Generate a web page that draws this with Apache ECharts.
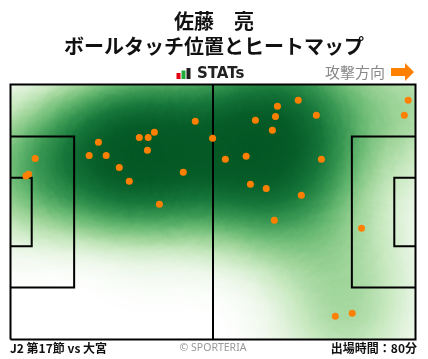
<!DOCTYPE html>
<html><head><meta charset="utf-8">
<script src="https://cdn.jsdelivr.net/npm/echarts@6/dist/echarts.min.js"></script>
<style>html,body{margin:0;padding:0;background:#fff}#c{width:428px;height:359px}</style>
</head><body><div id="c"></div>
<script>
// Ball touch positions in pitch metres (x: 0-105 toward attack direction, y: 0-68 from bottom touchline)
const touchX = [6.4, 4.0, 4.7, 22.8, 20.4, 24.8, 28.2, 30.8, 33.4, 35.7, 37.3, 35.5, 47.9, 44.8, 38.6, 52.4,
                69.2, 74.6, 68.7, 63.5, 79.3, 67.9, 103.1, 102.1, 55.7, 61.1, 80.6, 62.2, 66.3, 75.4, 68.4, 91.0, 84.2, 88.6];
const touchY = [48.3, 43.6, 44.1, 52.6, 49.1, 49.1, 45.9, 42.2, 53.9, 53.9, 55.3, 50.5, 58.2, 44.6, 36.1, 53.7,
                62.2, 63.8, 59.5, 58.5, 59.8, 55.8, 63.8, 59.8, 48.1, 48.9, 48.1, 41.4, 40.3, 38.5, 31.8, 29.7, 6.2, 7.0];

// Pitch markings (metres)
const pitchOutline = [[0, 0], [105, 0], [105, 68], [0, 68], [0, 0]];
const halfwayLine = [[52.5, 0], [52.5, 68]];
const leftPenaltyBox = [[0, 54.16], [16.5, 54.16], [16.5, 13.84], [0, 13.84]];
const leftGoalArea = [[0, 43.16], [5.5, 43.16], [5.5, 24.84], [0, 24.84]];
const rightPenaltyBox = [[105, 54.16], [88.5, 54.16], [88.5, 13.84], [105, 13.84]];
const rightGoalArea = [[105, 43.16], [99.5, 43.16], [99.5, 24.84], [105, 24.84]];

const titleLine1 = '佐藤　亮';
const titleLine2 = 'ボールタッチ位置とヒートマップ';
const footerLeft = 'J2 第17節 vs 大宮';
const footerRight = '出場時間：80分';
const credit = '© SPORTERIA';
const directionLabel = '攻撃方向';

echarts.registerMap('pitch', {
  type: 'FeatureCollection',
  features: [{ type: 'Feature', properties: { name: 'pitch' },
    geometry: { type: 'Polygon', coordinates: [pitchOutline] } }]
});

const chart = echarts.init(document.getElementById('c'), null, { renderer: 'canvas' });
const CJK = '"Noto Sans CJK JP", sans-serif';
chart.setOption({
  animation: false,
  backgroundColor: '#fff',
  geo: {
    map: 'pitch', left: 10.5, top: 84.5, width: 405, height: 255,
    boundingCoords: [[0, 68], [105, 0]],
    aspectScale: 1, roam: false, silent: true,
    itemStyle: { areaColor: 'rgba(0,0,0,0)', borderWidth: 0 },
    label: { show: false }, emphasis: { disabled: true }, select: { disabled: true }
  },
  visualMap: {
    type: 'continuous', show: false, min: 0, max: 1.3, seriesIndex: 0,
    inRange: { color: ['#ffffff', '#eaf6e6', '#c9e9c1', '#9bd396', '#66b871', '#379651', '#16763a', '#065d28', '#00511f', '#004b1d', '#004a1c'] }
  },
  series: [
    {
      type: 'heatmap', coordinateSystem: 'geo', geoIndex: 0,
      data: touchX.map((x, i) => [x, touchY[i], 1]),
      pointSize: 30, blurSize: 95, minOpacity: 1, maxOpacity: 1, silent: true
    },
    {
      type: 'lines', coordinateSystem: 'geo', geoIndex: 0, polyline: true, silent: true, z: 3,
      data: [pitchOutline, halfwayLine, leftPenaltyBox, leftGoalArea, rightPenaltyBox, rightGoalArea].map(c => ({ coords: c })),
      lineStyle: { color: '#000', width: 2, opacity: 1 }
    },
    {
      type: 'scatter', coordinateSystem: 'geo', geoIndex: 0, silent: true, z: 4,
      data: touchX.map((x, i) => [x, touchY[i]]),
      symbolSize: 7, itemStyle: { color: '#ff8000', opacity: 1 }
    }
  ],
  graphic: [
    { type: 'text', x: 214, y: 21.5, style: { text: titleLine1, font: 'bold 20px ' + CJK, fill: '#111', align: 'center', verticalAlign: 'middle' } },
    { type: 'text', x: 214, y: 46, style: { text: titleLine2, font: 'bold 20px ' + CJK, fill: '#111', align: 'center', verticalAlign: 'middle' } },
    { type: 'rect', shape: { x: 176.5, y: 73, width: 4, height: 6 }, style: { fill: '#e60012' } },
    { type: 'rect', shape: { x: 181.5, y: 70.5, width: 4, height: 8.5 }, style: { fill: '#22ac38' } },
    { type: 'rect', shape: { x: 186.5, y: 68, width: 4, height: 11 }, style: { fill: '#222' } },
    { type: 'text', x: 197, y: 74, style: { text: 'STATs', font: 'bold 15px "DejaVu Sans", sans-serif', fill: '#222', align: 'left', verticalAlign: 'middle' } },
    { type: 'text', x: 325, y: 72, style: { text: directionLabel, font: '15px ' + CJK, fill: '#888', align: 'left', verticalAlign: 'middle' } },
    { type: 'polygon', shape: { points: [[391, 68], [405, 68], [405, 63], [414, 72], [405, 81], [405, 76], [391, 76]] }, style: { fill: '#ff8000' } },
    { type: 'text', x: 10, y: 348.5, style: { text: footerLeft, font: 'bold 12px ' + CJK, fill: '#111', align: 'left', verticalAlign: 'middle' } },
    { type: 'text', x: 213, y: 348, style: { text: credit, font: '10.5px "Noto Sans", sans-serif', fill: '#999', align: 'center', verticalAlign: 'middle' } },
    { type: 'text', x: 417, y: 348.5, style: { text: footerRight, font: 'bold 12px ' + CJK, fill: '#111', align: 'right', verticalAlign: 'middle' } }
  ]
});
</script></body></html>
